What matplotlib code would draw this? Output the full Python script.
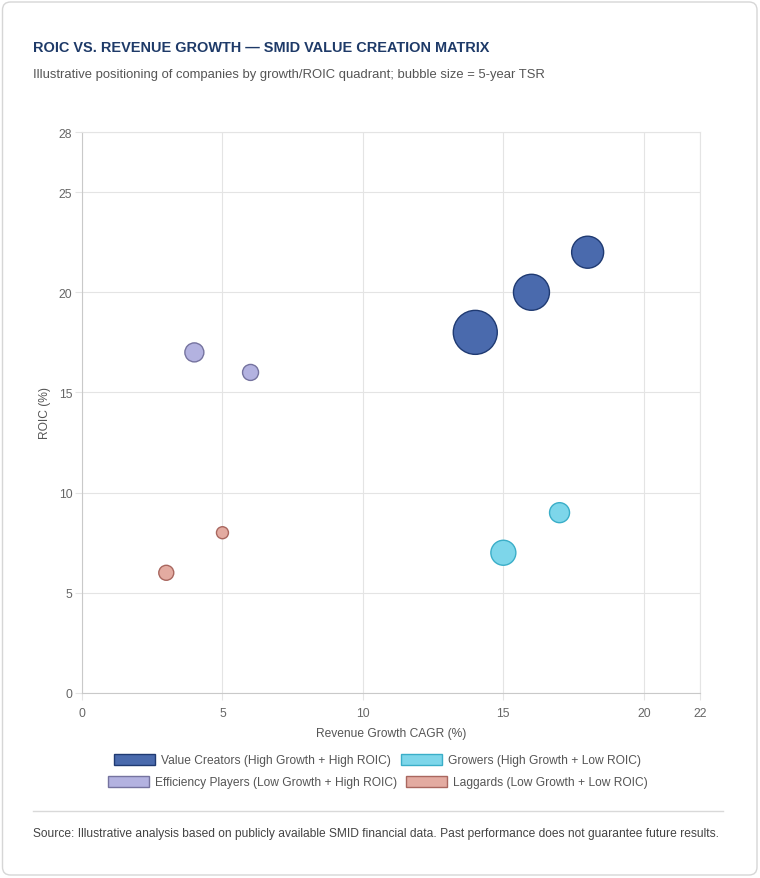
import matplotlib
matplotlib.use("Agg")
import matplotlib.pyplot as plt
from matplotlib.patches import FancyBboxPatch, Rectangle
from matplotlib.lines import Line2D
import numpy as np

plt.rcParams['font.family'] = ['Liberation Sans', 'DejaVu Sans']

# ---------------- data ----------------
categories = [
    "Value Creators (High Growth + High ROIC)",
    "Growers (High Growth + Low ROIC)",
    "Efficiency Players (Low Growth + High ROIC)",
    "Laggards (Low Growth + Low ROIC)",
]
vc_growth = [14, 16, 18]
vc_roic = [18, 20, 22]
vc_tsr = [44, 36, 32]

gr_growth = [15, 17]
gr_roic = [7, 9]
gr_tsr = [25, 20]

ef_growth = [4, 6]
ef_roic = [17, 16]
ef_tsr = [19, 16]

lg_growth = [3, 5]
lg_roic = [6, 8]
lg_tsr = [15, 12]

x_ticks = [0, 5, 10, 15, 20, 22]
y_ticks = [0, 5, 10, 15, 20, 25, 28]

title = "ROIC VS. REVENUE GROWTH \u2014 SMID VALUE CREATION MATRIX"
subtitle = "Illustrative positioning of companies by growth/ROIC quadrant; bubble size = 5-year TSR"
source = ("Source: Illustrative analysis based on publicly available SMID financial data. "
          "Past performance does not guarantee future results.")
x_label = "Revenue Growth CAGR (%)"
y_label = "ROIC (%)"

# ---------------- styles ----------------
fills = ['#4a6aad', '#7dd6ea', '#b3b2e0', '#e3aba1']
edges = ['#1f3a72', '#3aaec8', '#75739f', '#a9675f']
GRID = '#e4e4e4'
PX = 72.0 / 100  # points per pixel at dpi 100

W, H, DPI = 760, 879, 100
fig = plt.figure(figsize=(W / DPI, H / DPI), dpi=DPI, facecolor='white')

def fx(px):
    return px / W

def fy(py):
    return 1 - py / H

# card outline
card = FancyBboxPatch((2.5 / DPI, 3 / DPI), 754.5 / DPI, 873 / DPI,
                      boxstyle="round,pad=0,rounding_size=0.08",
                      transform=fig.dpi_scale_trans, facecolor='none',
                      edgecolor='#d6d6d6', linewidth=1.0, zorder=-10)
fig.patches.append(card)

# texts
fig.text(fx(33), fy(51.5), title, fontsize=10.45, fontweight='bold',
         color='#1e3a68', ha='left', va='baseline')
fig.text(fx(33), fy(78), subtitle, fontsize=13 * PX, color='#555555',
         ha='left', va='baseline')

# axes
ax = fig.add_axes([fx(82), fy(694), (700 - 82) / W, (694 - 133) / H])
ax.set_facecolor('none')
ax.set_xlim(0, 22)
ax.set_ylim(0, 28)
ax.set_xticks(x_ticks)
ax.set_yticks(y_ticks)
ax.grid(True, color=GRID, linewidth=0.8, zorder=0)
ax.set_axisbelow(True)
for side in ['top', 'right']:
    ax.spines[side].set_color(GRID)
    ax.spines[side].set_linewidth(0.8)
for side in ['left', 'bottom']:
    ax.spines[side].set_color('#c9c9c9')
    ax.spines[side].set_linewidth(0.8)
ax.tick_params(axis='both', length=5, width=0.8, color=GRID,
               labelcolor='#666666', labelsize=12.3 * PX)
ax.tick_params(axis='y', pad=2.0)
ax.tick_params(axis='x', pad=5.0)

def r_to_s(tsr):
    r_px = np.asarray(tsr, dtype=float) / 2.0
    d_pt = 2 * r_px * PX
    return d_pt ** 2

series = [
    (vc_growth, vc_roic, vc_tsr),
    (gr_growth, gr_roic, gr_tsr),
    (ef_growth, ef_roic, ef_tsr),
    (lg_growth, lg_roic, lg_tsr),
]
for (gx, gy, gt), fc, ec, lab in zip(series, fills, edges, categories):
    ax.scatter(gx, gy, s=r_to_s(gt), facecolor=fc, edgecolor=ec,
               linewidth=1.0, zorder=3, label=lab)

fig.text(fx(391), fy(737.5), x_label, fontsize=12 * PX, color='#555555',
         ha='center', va='baseline')
fig.text(fx(45), fy(413), y_label, fontsize=12 * PX, color='#555555',
         ha='center', va='center', rotation=90)

# legend: two centred rows
handles = [Rectangle((0, 0), 1, 1, facecolor=fc, edgecolor=ec, linewidth=1.0)
           for fc, ec in zip(fills, edges)]
common = dict(loc='center', ncol=2, frameon=False, fontsize=12 * PX,
              handlelength=3.4, handleheight=1.1, handletextpad=0.5,
              columnspacing=0.8, borderpad=0, borderaxespad=0,
              labelcolor='#555555')
leg1 = fig.legend(handles[0:2], categories[0:2],
                  bbox_to_anchor=(fx(377.5), fy(761)), **common)
leg2 = fig.legend(handles[2:4], categories[2:4],
                  bbox_to_anchor=(fx(378), fy(783)), **common)

# separator
fig.add_artist(Line2D([fx(33), fx(723)], [fy(812), fy(812)],
                      color='#d9d9d9', linewidth=1.0))
fig.text(fx(33), fy(837), source, fontsize=12 * PX, color='#444444',
         ha='left', va='baseline')

fig.savefig('out.png', dpi=DPI, facecolor='white')
